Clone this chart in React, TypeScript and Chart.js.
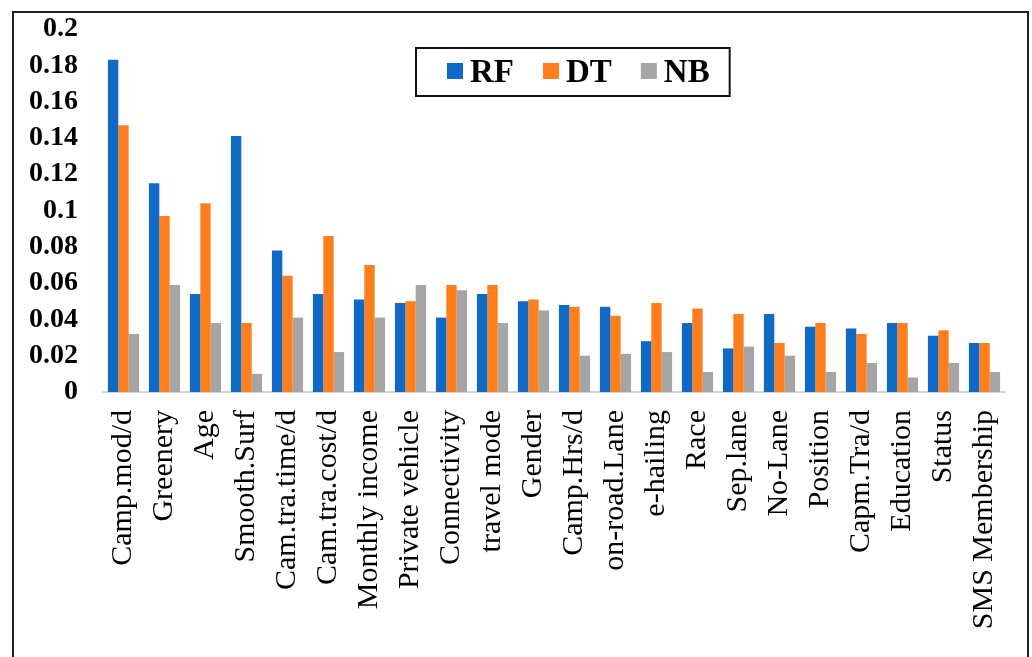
import { useEffect, useRef } from "react";
import { Chart, registerables } from "chart.js";

Chart.register(...registerables);

const features = [
  "Camp.mod/d",
  "Greenery",
  "Age",
  "Smooth.Surf",
  "Cam.tra.time/d",
  "Cam.tra.cost/d",
  "Monthly income",
  "Private vehicle",
  "Connectivity",
  "travel mode",
  "Gender",
  "Camp.Hrs/d",
  "on-road.Lane",
  "e-hailing",
  "Race",
  "Sep.lane",
  "No-Lane",
  "Position",
  "Capm.Tra/d",
  "Education",
  "Status",
  "SMS Membership",
];

const rfImportance = [
  0.183, 0.115, 0.054, 0.141, 0.078, 0.054, 0.051, 0.049, 0.041, 0.054, 0.05,
  0.048, 0.047, 0.028, 0.038, 0.024, 0.043, 0.036, 0.035, 0.038, 0.031, 0.027,
];
const dtImportance = [
  0.147, 0.097, 0.104, 0.038, 0.064, 0.086, 0.07, 0.05, 0.059, 0.059, 0.051,
  0.047, 0.042, 0.049, 0.046, 0.043, 0.027, 0.038, 0.032, 0.038, 0.034, 0.027,
];
const nbImportance = [
  0.032, 0.059, 0.038, 0.01, 0.041, 0.022, 0.041, 0.059, 0.056, 0.038, 0.045,
  0.02, 0.021, 0.022, 0.011, 0.025, 0.02, 0.011, 0.016, 0.008, 0.016, 0.011,
];

const yTicks = [0, 0.02, 0.04, 0.06, 0.08, 0.1, 0.12, 0.14, 0.16, 0.18, 0.2];

const SERIF = "'Liberation Serif', 'Times New Roman', serif";

// Boxed legend drawn inside the plot area, near the top.
const boxedLegend = {
  id: "boxedLegend",
  afterDraw(chart: any) {
    const { ctx, chartArea } = chart;
    const left = chartArea.left + 313;
    const top = 48;
    const height = 48;
    const square = 16;
    const gapText = 7;
    const gapItem = 29;
    const padLeft = 31;
    const padRight = 20;
    ctx.save();
    ctx.font = `bold 33px ${SERIF}`;
    const items = chart.data.datasets.map((d: any) => ({
      label: d.label,
      color: d.backgroundColor,
      w: ctx.measureText(d.label).width,
    }));
    let content = 0;
    items.forEach((it: any, i: number) => {
      content += square + gapText + it.w + (i < items.length - 1 ? gapItem : 0);
    });
    const width = padLeft + content + padRight;
    ctx.lineWidth = 2;
    ctx.strokeStyle = "#111";
    ctx.fillStyle = "#fff";
    ctx.fillRect(left, top, width, height);
    ctx.strokeRect(left, top, width, height);
    let x = left + padLeft;
    const cy = top + height / 2;
    ctx.textBaseline = "middle";
    ctx.textAlign = "left";
    items.forEach((it: any) => {
      ctx.fillStyle = it.color;
      ctx.fillRect(x, cy - square / 2 - 1, square, square);
      x += square + gapText;
      ctx.fillStyle = "#000";
      ctx.fillText(it.label, x, cy + 1);
      x += it.w + gapItem;
    });
    ctx.restore();
  },
};

function ImportanceChart() {
  const canvasRef = useRef<HTMLCanvasElement | null>(null);

  useEffect(() => {
    if (!canvasRef.current) return;
    const chart = new Chart(canvasRef.current, {
      type: "bar",
      data: {
        labels: features,
        datasets: [
          { label: "RF", data: rfImportance, backgroundColor: "#1169C6" },
          { label: "DT", data: dtImportance, backgroundColor: "#FF7F1F" },
          { label: "NB", data: nbImportance, backgroundColor: "#A5A5A5" },
        ],
      },
      options: {
        responsive: false,
        animation: false,
        layout: { padding: { left: 0, right: 27, top: 29, bottom: 0 } },
        datasets: {
          bar: { categoryPercentage: 0.76, barPercentage: 1 },
        },
        plugins: {
          legend: { display: false },
          tooltip: { enabled: false },
        },
        scales: {
          x: {
            grid: { display: false, drawTicks: false },
            border: { display: true, color: "#d4d4d4", width: 2 },
            ticks: {
              color: "#000",
              font: { family: SERIF, size: 30 },
              minRotation: 90,
              maxRotation: 90,
              autoSkip: false,
              padding: 18,
            },
            afterFit(scale: any) {
              scale.height = 265;
              scale.paddingLeft = 0;
              scale.paddingRight = 0;
            },
          },
          y: {
            min: 0,
            max: 0.2,
            afterBuildTicks(scale: any) {
              scale.ticks = yTicks.map((v) => ({ value: v }));
            },
            grid: { display: false, drawTicks: false },
            border: { display: false },
            ticks: {
              color: "#000",
              autoSkip: false,
              font: { family: SERIF, size: 28, weight: "bold" },
              padding: 25,
              callback: (v: any) => String(Number(Number(v).toFixed(2))),
            },
            afterFit(scale: any) {
              scale.width = 103;
              scale.paddingTop = 0;
              scale.paddingBottom = 0;
            },
          },
        },
      },
      plugins: [boxedLegend],
    });
    return () => chart.destroy();
  }, []);

  return (
    <canvas
      ref={canvasRef}
      width={1032}
      height={657}
      style={{ position: "fixed", left: 0, top: 0, width: 1032, height: 657 }}
    />
  );
}

export default function App() {
  return (
    <div>
      <div
        style={{
          position: "fixed",
          left: 12,
          top: 11,
          width: 1013,
          height: 700,
          border: "2px solid #222",
          boxSizing: "content-box",
        }}
      />
      <ImportanceChart />
    </div>
  );
}
